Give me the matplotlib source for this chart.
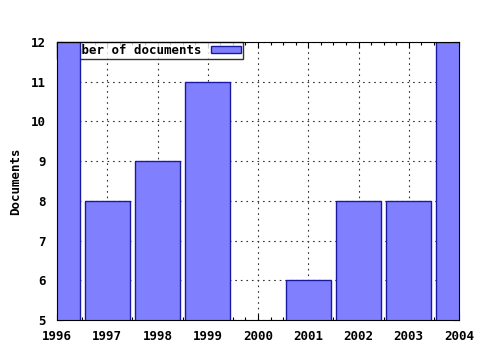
import matplotlib
matplotlib.use("Agg")
import matplotlib.pyplot as plt
from matplotlib.ticker import MultipleLocator

years = [1996, 1997, 1998, 1999, 2000, 2001, 2002, 2003, 2004]
docs = [12, 8, 9, 11, 4, 6, 8, 8, 12]

plt.rcParams['font.family'] = 'DejaVu Sans Mono'
plt.rcParams['font.weight'] = 'bold'
plt.rcParams['axes.labelweight'] = 'bold'
plt.rcParams['font.size'] = 9

fig = plt.figure(figsize=(4.8, 3.5), dpi=100)
ax = fig.add_axes([57/480, 30/350, 402/480, 278/350])

ax.bar(years, docs, width=0.9, color='#8080ff', edgecolor='#1a1aa0',
       linewidth=1, label='Number of documents', zorder=3)

ax.set_xlim(1996, 2004)
ax.set_ylim(5, 12)
ax.set_xticks(years)
ax.xaxis.set_minor_locator(MultipleLocator(0.25))
ax.set_yticks(range(5, 13))
ax.grid(True, linestyle=(0, (1.5, 3.5)), color='#333333', linewidth=0.8, zorder=0)
ax.tick_params(which='both', direction='in', top=True, right=True, length=4, width=0.8)
ax.tick_params(which='minor', length=2)
ax.tick_params(axis='x', pad=7)
ax.tick_params(axis='y', pad=8)
ax.set_ylabel('Documents', labelpad=6)
for s in ax.spines.values():
    s.set_linewidth(0.8)
    s.set_zorder(5)

leg = ax.legend(loc='upper left', markerfirst=False, frameon=True, fancybox=False,
                borderaxespad=0, borderpad=0.15, handlelength=2.4, handleheight=0.55,
                handletextpad=0.8, fontsize=9)
leg.get_frame().set_edgecolor('black')
leg.get_frame().set_linewidth(1)
leg.set_zorder(2)

fig.savefig('out.png', dpi=100)
